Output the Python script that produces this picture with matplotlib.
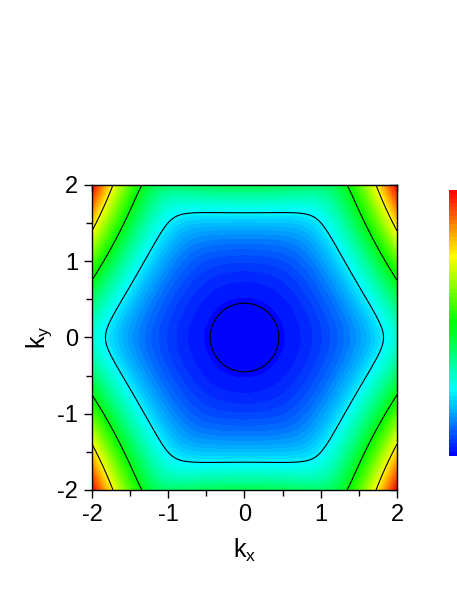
import matplotlib
matplotlib.use('Agg')
import matplotlib.pyplot as plt
import numpy as np
from matplotlib.colors import LinearSegmentedColormap, PowerNorm

# model parameters (hexagonally warped band)
k_range = [-2.0, 2.0]
quad_coef = 3.0       # isotropic k^2 term
warp_coef = 0.6       # warping strength (squared)
line_levels = [1.06, 11.8, 20.7, 29.0]
n_fill = 62
color_gamma = 1.26
ticks = [-2, -1, 0, 1, 2]
tick_labels = ['-2', '-1', '0', '1', '2']
cmap_colors = ['#0000ff', '#00ffff', '#00ff00', '#ffff00', '#ff0000']

plt.rcParams['font.family'] = ['Liberation Sans', 'DejaVu Sans']
plt.rcParams['axes.unicode_minus'] = False

kx = np.linspace(k_range[0], k_range[1], 401)
ky = np.linspace(k_range[0], k_range[1], 401)
KX, KY = np.meshgrid(kx, ky)
k2 = KX**2 + KY**2
warp = (KY**3 - 3*KY*KX**2)**2
E = quad_coef*k2 + np.sqrt(k2 + warp_coef*warp)

cmap = LinearSegmentedColormap.from_list('origin_rainbow', cmap_colors, N=256)
cmap.set_under('#111111')
cmap.set_over('#808080')

fig = plt.figure(figsize=[4.57, 5.91], dpi=100)
ax = fig.add_axes([0.2013, 0.1709, 0.6674, 0.5161])

emax = E.max()
levels = emax*np.linspace(0, 1, n_fill + 1)**(1/color_gamma)
norm = PowerNorm(gamma=color_gamma, vmin=0, vmax=emax)
cf = ax.contourf(KX, KY, E, levels=levels, cmap=cmap, norm=norm)
ax.contour(KX, KY, E, levels=line_levels, colors='black', linewidths=0.8)

ax.set_xlim(k_range)
ax.set_ylim(k_range)
ax.set_xticks(ticks)
ax.set_xticklabels(tick_labels)
ax.set_yticks(ticks)
ax.set_yticklabels(tick_labels)
ax.set_xticks(np.arange(-1.5, 2, 1), minor=True)
ax.set_yticks(np.arange(-1.5, 2, 1), minor=True)
ax.tick_params(which='major', direction='out', length=6, width=1, labelsize=17, pad=4)
ax.tick_params(which='minor', direction='out', length=4, width=1)

for sp in ax.spines.values():
    sp.set_linewidth(1)

top = ax.secondary_xaxis('top')
top.set_xticks(ticks)
top.set_xticks(np.arange(-1.5, 2, 1), minor=True)
top.tick_params(which='both', direction='in', length=5, width=1, labeltop=False)
right = ax.secondary_yaxis('right')
right.set_yticks(ticks)
right.set_yticks(np.arange(-1.5, 2, 1), minor=True)
right.tick_params(which='both', direction='in', length=5, width=1, labelright=False)

ax.set_xlabel(r'k$_\mathregular{x}$', fontsize=18, labelpad=8)
ax.set_ylabel(r'k$_\mathregular{y}$', fontsize=18, labelpad=2)

cax = fig.add_axes([0.9825, 0.2284, 0.05, 0.4501])
cb = fig.colorbar(cf, cax=cax, extend='both', extendrect=True, extendfrac=0.012)
cb.set_ticks([])
cb.minorticks_off()
cb.outline.set_visible(False)

fig.savefig('out.png', dpi=100)
